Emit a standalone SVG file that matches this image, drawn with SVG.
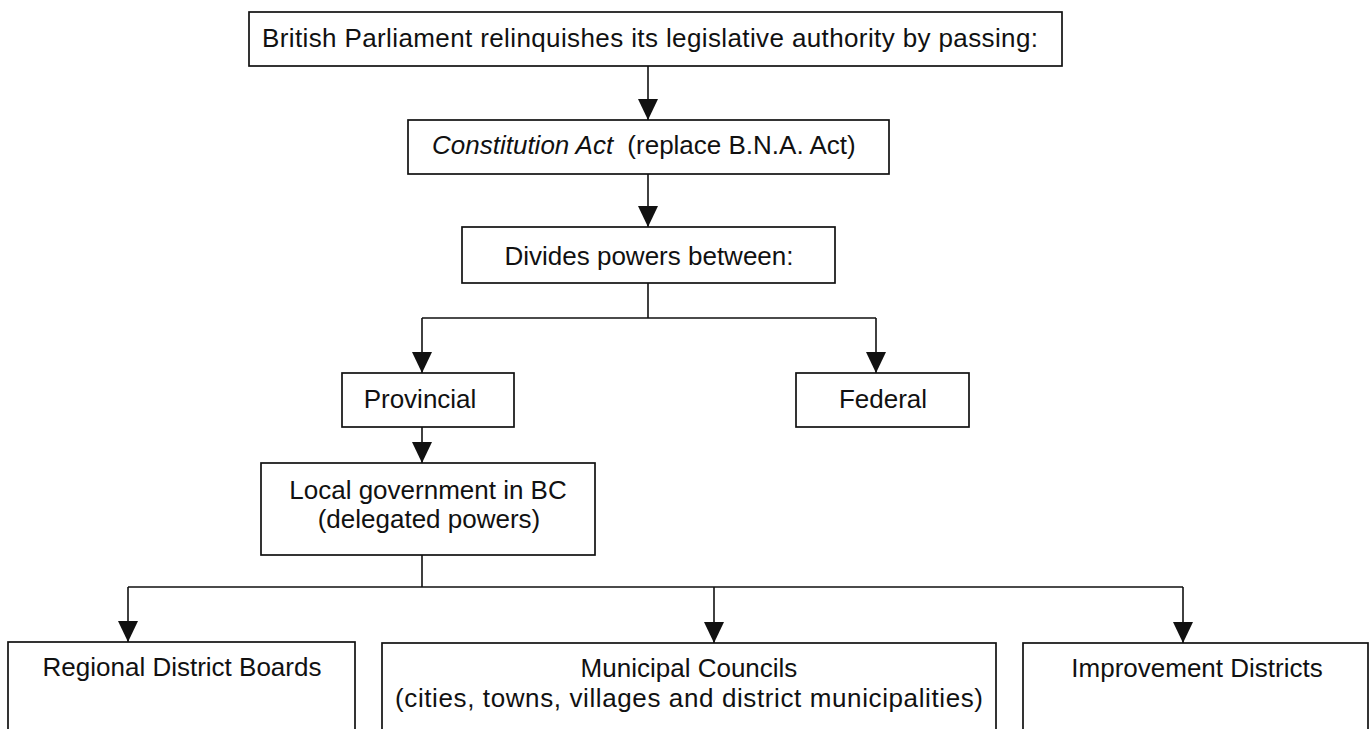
<svg xmlns="http://www.w3.org/2000/svg" width="1370" height="729" viewBox="0 0 1370 729">
<style>
.box{fill:#fff;stroke:#111;stroke-width:1.7}
.t{font-family:"Liberation Sans",Arial,Helvetica,sans-serif;font-size:26px;fill:#111}
.c{text-anchor:middle}
.conn{fill:none;stroke:#111;stroke-width:1.6}
</style>
<defs>
<marker id="ah" viewBox="0 0 21 20" refX="21" refY="10" markerWidth="21" markerHeight="20" markerUnits="userSpaceOnUse" orient="auto">
<path d="M0,0 L21,10 L0,20 z" fill="#111"/>
</marker>
</defs>
<rect width="1370" height="729" fill="#fff"/>
<g id="connectors">
<path class="conn" d="M648,66 V120" marker-end="url(#ah)"/>
<path class="conn" d="M648,174 V227" marker-end="url(#ah)"/>
<path class="conn" d="M648,283 V318 M422,318 H876"/>
<path class="conn" d="M422,318 V373" marker-end="url(#ah)"/>
<path class="conn" d="M876,318 V373" marker-end="url(#ah)"/>
<path class="conn" d="M422,427 V463" marker-end="url(#ah)"/>
<path class="conn" d="M422,555 V587 M128,587 H1183"/>
<path class="conn" d="M128,587 V642" marker-end="url(#ah)"/>
<path class="conn" d="M714,587 V643" marker-end="url(#ah)"/>
<path class="conn" d="M1183,587 V643" marker-end="url(#ah)"/>
</g>
<g id="n-parliament">
<rect class="box" x="249" y="12" width="813" height="54"/>
<text class="t c" x="650" y="47" textLength="776" lengthAdjust="spacing">British Parliament relinquishes its legislative authority by passing:</text>
</g>
<g id="n-constitution">
<rect class="box" x="408" y="120" width="481" height="54"/>
<text class="t" x="432" y="154"><tspan font-style="italic">Constitution Act</tspan><tspan dx="7"> (replace B.N.A. Act)</tspan></text>
</g>
<g id="n-divides">
<rect class="box" x="462" y="227" width="373" height="56"/>
<text class="t c" x="649" y="265">Divides powers between:</text>
</g>
<g id="n-provincial">
<rect class="box" x="342" y="373" width="172" height="54"/>
<text class="t c" x="420" y="408">Provincial</text>
</g>
<g id="n-federal">
<rect class="box" x="796" y="373" width="173" height="54"/>
<text class="t c" x="883" y="408">Federal</text>
</g>
<g id="n-local">
<rect class="box" x="261" y="463" width="334" height="92"/>
<text class="t c" x="428" y="499">Local government in BC</text>
<text class="t c" x="429" y="528">(delegated powers)</text>
</g>
<g id="n-regional">
<rect class="box" x="8" y="642" width="347" height="110"/>
<text class="t c" x="182" y="676">Regional District Boards</text>
</g>
<g id="n-municipal">
<rect class="box" x="382" y="643" width="614" height="110"/>
<text class="t c" x="689" y="677">Municipal Councils</text>
<text class="t c" x="689" y="707" textLength="588" lengthAdjust="spacing">(cities, towns, villages and district municipalities)</text>
</g>
<g id="n-improvement">
<rect class="box" x="1023" y="643" width="345" height="110"/>
<text class="t c" x="1197" y="677">Improvement Districts</text>
</g>
</svg>
